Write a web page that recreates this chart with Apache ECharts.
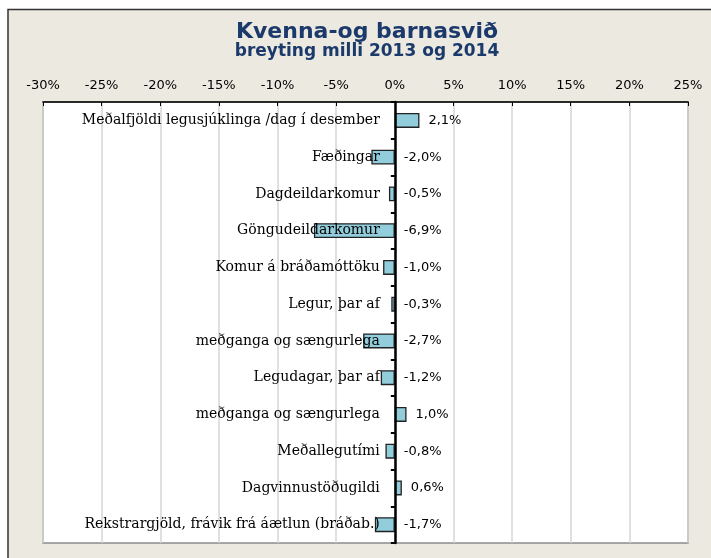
<!DOCTYPE html>
<html>
<head>
<meta charset="utf-8">
<script src="https://cdn.jsdelivr.net/npm/echarts@6/dist/echarts.min.js"></script>
<style>
  html, body { margin: 0; padding: 0; background: #fff; }
  #chart { width: 711px; height: 558px; }
</style>
</head>
<body>
<div id="chart"></div>
<script>
// flokkar (ofan frá og niður)
const categories = [
  'Meðalfjöldi legusjúklinga /dag í desember',
  'Fæðingar',
  'Dagdeildarkomur',
  'Göngudeildarkomur',
  'Komur á bráðamóttöku',
  'Legur, þar af',
  'meðganga og sængurlega',
  'Legudagar, þar af',
  'meðganga og sængurlega',
  'Meðallegutími',
  'Dagvinnustöðugildi',
  'Rekstrargjöld, frávik frá áætlun (bráðab.)'
]
// breyting í %
const changeValues = [2.1, -2.0, -0.5, -6.9, -1.0, -0.3, -2.7, -1.2, 1.0, -0.8, 0.6, -1.7]
const axisMin = -30
const axisMax = 25
const axisStep = 5

const gridLeft = 43
const gridRight = 23
const chartWidth = 711
// staðsetning 0% línunnar, svo flokkaheitin standi við hana
const zeroX = gridLeft + (0 - axisMin) / (axisMax - axisMin) * (chartWidth - gridLeft - gridRight)

const chartInstance = echarts.init(document.getElementById('chart'))

const option = {
  backgroundColor: '#fff',
  animation: false,
  graphic: [
    {
      type: 'rect',
      shape: { x: 8, y: 9.5, width: 760, height: 640 },
      style: { fill: '#ECE9E0', stroke: '#333', lineWidth: 1.5 },
      z: -10
    }
  ],
  title: {
    text: 'Kvenna-og barnasvið',
    subtext: 'breyting milli 2013 og 2014',
    left: 362,
    textAlign: 'center',
    top: 16,
    itemGap: 0,
    textStyle: {
      fontFamily: 'DejaVu Sans, sans-serif',
      fontSize: 22,
      fontWeight: 'bold',
      color: '#1B3A6B'
    },
    subtextStyle: {
      fontFamily: 'DejaVu Sans, sans-serif',
      fontSize: 17,
      fontWeight: 'bold',
      color: '#1B3A6B'
    }
  },
  grid: {
    left: gridLeft,
    right: gridRight,
    top: 102,
    bottom: 15,
    outerBoundsMode: 'none',
    containLabel: false,
    show: true,
    backgroundColor: '#fff',
    borderColor: '#8C8C8C',
    borderWidth: 1.5
  },
  xAxis: {
    type: 'value',
    position: 'top',
    min: axisMin,
    max: axisMax,
    interval: axisStep,
    axisLine: { show: true, lineStyle: { color: '#000', width: 1.5 } },
    axisTick: { show: true, inside: true, length: 4, lineStyle: { color: '#000' } },
    axisLabel: {
      formatter: '{value}%',
      margin: 10,
      fontFamily: 'DejaVu Sans, sans-serif',
      fontSize: 13,
      color: '#000'
    },
    splitLine: { show: true, lineStyle: { color: '#D6D6D6', width: 1.5 } }
  },
  yAxis: {
    type: 'category',
    inverse: true,
    data: categories,
    z: 5,
    axisLine: { show: true, onZero: true, lineStyle: { color: '#000', width: 2.5 } },
    axisTick: { show: true, length: 4, lineStyle: { color: '#000', width: 2 } },
    axisLabel: {
      // neikvætt bil færir heitin frá vinstri brún að 0% línunni
      margin: -(zeroX - gridLeft - 15),
      align: 'right',
      fontFamily: 'DejaVu Serif, serif',
      fontSize: 14,
      color: '#000'
    },
    splitLine: { show: false }
  },
  series: [
    {
      type: 'bar',
      data: changeValues,
      barWidth: 15,
      itemStyle: {
        color: '#92CDDC',
        borderColor: '#222',
        borderWidth: 1.3
      },
      label: {
        show: true,
        position: 'right',
        distance: 9,
        formatter: (p) => p.value.toFixed(1).replace('.', ',') + '%',
        fontFamily: 'DejaVu Sans, sans-serif',
        fontSize: 13,
        color: '#000'
      }
    }
  ]
}

chartInstance.setOption(option)
</script>
</body>
</html>
